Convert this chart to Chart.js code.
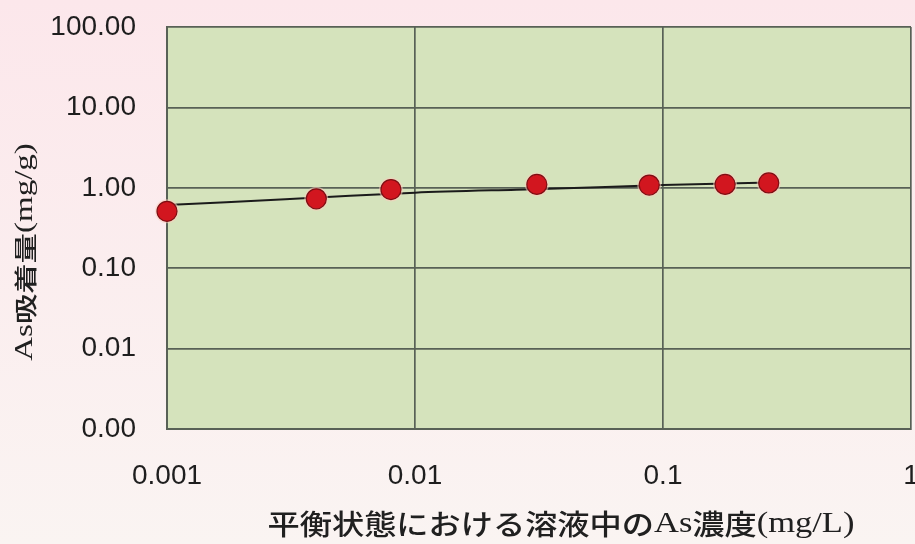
<!DOCTYPE html>
<html>
<head>
<meta charset="utf-8">
<script src="https://cdn.jsdelivr.net/npm/chart.js@4/dist/chart.umd.min.js"></script>
<style>
  html, body { margin: 0; padding: 0; background: #fbeef0; }
  #wrap { width: 915px; height: 544px; }
</style>
</head>
<body>
<div id="wrap"><canvas id="c" width="915" height="544"></canvas></div>
<script>
// Equilibrium As concentration (mg/L) and As adsorption (mg/g)
const concentration = [0.001, 0.0040, 0.0080, 0.031, 0.088, 0.178, 0.267];
const adsorption    = [0.51, 0.73, 0.95, 1.10, 1.08, 1.10, 1.15];

// Fitted isotherm curve
const fitConcentration = [0.001, 0.003, 0.01, 0.03, 0.1, 0.27];
const fitAdsorption    = [0.61, 0.72, 0.87, 0.96, 1.08, 1.16];

// Decade ticks and their labels
const xTicks = [0.001, 0.01, 0.1, 1];
const xTickLabels = ['0.001', '0.01', '0.1', '1'];
const yTicks = [0.001, 0.01, 0.1, 1, 10, 100];
const yTickLabels = ['0.00', '0.01', '0.10', '1.00', '10.00', '100.00'];

const xTitle = [
  { text: '平衡状態における溶液中の', kind: 'cjk' },
  { text: 'As', kind: 'latin' },
  { text: '濃度', kind: 'cjk' },
  { text: '(mg/L)', kind: 'latin' }
];
const yTitle = [
  { text: 'As', kind: 'latin' },
  { text: '吸着量', kind: 'cjk' },
  { text: '(mg/g)', kind: 'latin' }
];

const GRID = '#586156';

// Markers may overhang the plot frame; don't reserve layout space for them
Chart.ScatterController.prototype.getMaxOverflow = function () { return 0; };

function pairs(xs, ys) { return xs.map((x, i) => ({ x: x, y: ys[i] })); }

// Mixed-font title drawn along a baseline, stretched along the reading direction
function drawMixed(ctx, parts, fonts, stretch) {
  let total = 0;
  const widths = parts.map(p => { ctx.font = fonts[p.kind]; const w = ctx.measureText(p.text).width; total += w; return w; });
  let x = -total / 2;
  ctx.save();
  ctx.scale(stretch, 1);
  ctx.fillStyle = '#202020';
  ctx.textBaseline = 'middle';
  ctx.textAlign = 'left';
  parts.forEach((p, i) => { ctx.font = fonts[p.kind]; ctx.fillText(p.text, x, 0); x += widths[i]; });
  ctx.restore();
}

const backdrop = {
  id: 'backdrop',
  beforeDraw(chart) {
    const ctx = chart.ctx, a = chart.chartArea;
    ctx.save();
    const g = ctx.createLinearGradient(0, 0, 0, chart.height);
    g.addColorStop(0, '#fce7eb');
    g.addColorStop(1, '#faf4f2');
    ctx.fillStyle = g;
    ctx.fillRect(0, 0, chart.width, chart.height);
    ctx.fillStyle = '#d5e3bc';
    ctx.fillRect(a.left, a.top, a.right - a.left, a.bottom - a.top);
    ctx.restore();
  }
};

const titles = {
  id: 'titles',
  afterDraw(chart) {
    const ctx = chart.ctx;
    ctx.save();
    ctx.translate(561, 524);
    drawMixed(ctx, xTitle, {
      cjk: '500 28px "Noto Sans CJK JP"',
      latin: '30px "Liberation Serif"'
    }, 1.15);
    ctx.restore();

    ctx.save();
    ctx.translate(25, 252);
    ctx.rotate(-Math.PI / 2);
    drawMixed(ctx, yTitle, {
      cjk: '500 23px "Noto Sans CJK JP"',
      latin: '25px "Liberation Serif"'
    }, 1.32);
    ctx.restore();
  }
};

new Chart(document.getElementById('c'), {
  type: 'scatter',
  data: {
    datasets: [
      {
        label: 'As吸着量',
        data: pairs(concentration, adsorption),
        order: 0,
        clip: false,
        pointRadius: 10,
        pointHoverRadius: 10,
        pointBackgroundColor: '#d2161f',
        pointBorderColor: '#7e0d12',
        pointBorderWidth: 1.2,
        showLine: false
      },
      {
        label: 'halo',
        data: pairs(concentration, adsorption),
        order: 1,
        clip: false,
        pointRadius: 12,
        pointHoverRadius: 12,
        pointBackgroundColor: 'rgba(250,205,190,0.55)',
        pointBorderWidth: 0,
        showLine: false
      },
      {
        label: 'fit',
        data: pairs(fitConcentration, fitAdsorption),
        order: 2,
        clip: false,
        showLine: true,
        borderColor: '#1b1b1b',
        borderWidth: 2,
        pointRadius: 0,
        tension: 0.3,
        fill: false
      }
    ]
  },
  options: {
    responsive: false,
    animation: false,
    devicePixelRatio: 1,
    layout: { padding: { top: 27, right: 4, left: 0, bottom: 0 } },
    plugins: { legend: { display: false }, tooltip: { enabled: false } },
    scales: {
      x: {
        type: 'logarithmic',
        min: 0.001,
        max: 1,
        afterBuildTicks(s) { s.ticks = xTicks.map(v => ({ value: v })); },
        afterFit(s) { s.height = 115; s.paddingLeft = 0; s.paddingRight = 0; },
        grid: { color: GRID, lineWidth: 1.7, drawTicks: false },
        border: { color: GRID, width: 2 },
        ticks: {
          autoSkip: false,
          maxRotation: 0,
          padding: 30,
          color: '#1e1e1e',
          font: { family: '"Liberation Sans"', size: 28 },
          callback(v) { const i = xTicks.indexOf(v); return i >= 0 ? xTickLabels[i] : ''; }
        }
      },
      y: {
        type: 'logarithmic',
        min: 0.001,
        max: 100,
        afterBuildTicks(s) { s.ticks = yTicks.map(v => ({ value: v })); },
        afterFit(s) { s.width = 167; s.paddingTop = 0; s.paddingBottom = 0; },
        grid: { color: GRID, lineWidth: 1.7, drawTicks: false },
        border: { color: GRID, width: 2 },
        ticks: {
          autoSkip: false,
          padding: 31,
          color: '#1e1e1e',
          font: { family: '"Liberation Sans"', size: 28 },
          callback(v) { const i = yTicks.indexOf(v); return i >= 0 ? yTickLabels[i] : ''; }
        }
      }
    }
  },
  plugins: [backdrop, titles]
});
</script>
</body>
</html>
